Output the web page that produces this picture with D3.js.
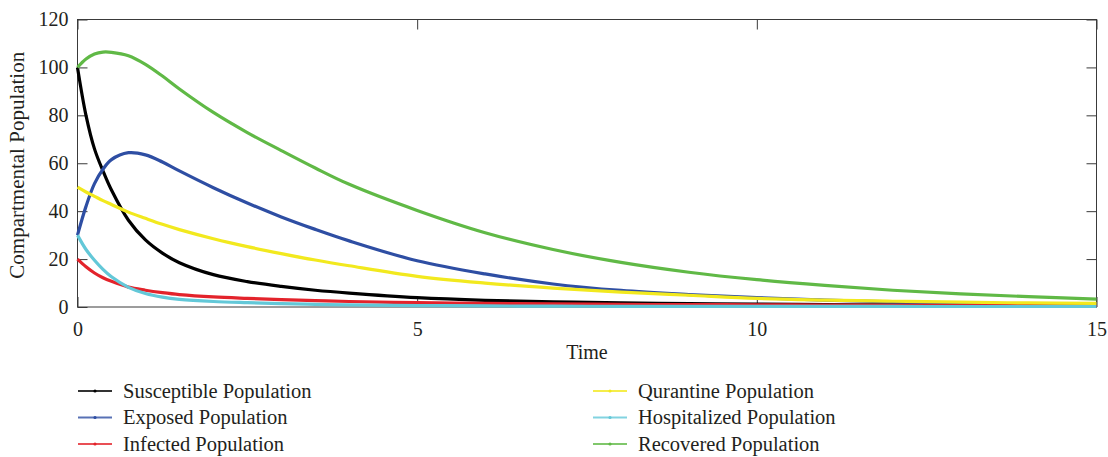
<!DOCTYPE html>
<html>
<head>
<meta charset="utf-8">
<script src="https://cdn.jsdelivr.net/npm/d3@7"></script>
<style>
  body { margin: 0; background: #fff; }
  text { font-family: "Liberation Serif", "Times New Roman", serif; fill: #231f20; }
</style>
</head>
<body>
<div class="svg-container"></div>
<script>
// time grid (days) and compartment values
const time =         [0, 0.125, 0.25, 0.375, 0.5, 0.75, 1, 1.25, 1.5, 2, 2.5, 3, 3.5, 4, 5, 6, 7, 8, 9, 10, 11, 12, 13, 14, 15];
const susceptible =  [100, 80, 66, 56.8, 48.8, 36.2, 28, 22.5, 18.5, 13.5, 10.6, 8.6, 7.0, 5.8, 3.9, 2.8, 2.2, 1.7, 1.4, 1.2, 1.0, 0.9, 0.8, 0.7, 0.6];
const exposed =      [30, 42, 51.5, 57.5, 61.5, 64.4, 63.5, 60.5, 56.8, 49.8, 43.4, 37.6, 32.4, 27.6, 19.3, 13.8, 9.6, 6.9, 5.2, 3.9, 2.9, 2.1, 1.6, 1.2, 0.9];
const infected =     [20, 16.8, 14.2, 12.2, 10.7, 8.3, 7.0, 6.0, 5.2, 4.2, 3.6, 3.1, 2.7, 2.3, 1.8, 1.5, 1.3, 1.1, 1.0, 0.9, 0.8, 0.7, 0.6, 0.55, 0.5];
const quarantine =   [50, 48, 46.2, 44.4, 42.8, 39.6, 37, 34.5, 32.3, 28.5, 25.2, 22.3, 19.6, 17.2, 12.8, 10.0, 7.9, 6.2, 4.9, 3.6, 2.9, 2.4, 2.0, 1.7, 1.5];
const hospitalized = [30, 24, 19.5, 15.7, 12.6, 8.2, 5.6, 4.1, 3.2, 2.3, 1.8, 1.4, 1.1, 0.9, 0.6, 0.45, 0.35, 0.3, 0.27, 0.25, 0.23, 0.22, 0.21, 0.2, 0.2];
const recovered =    [100, 103.5, 105.6, 106.4, 106.3, 104.9, 101.3, 96.4, 91, 81.2, 72.8, 65.3, 58, 51.2, 40.3, 31, 24, 18.6, 14.5, 11.4, 9.0, 7.0, 5.5, 4.3, 3.3];

const seriesNames = ["Susceptible Population", "Exposed Population", "Infected Population",
                     "Qurantine Population", "Hospitalized Population", "Recovered Population"];
const seriesColors = ["#000000", "#2e4ea3", "#e3232b", "#f2e91e", "#63c8d8", "#60b946"];
const seriesValues = [susceptible, exposed, infected, quarantine, hospitalized, recovered];

const xTicks = [0, 5, 10, 15];
const yTicks = [0, 20, 40, 60, 80, 100, 120];

const w = 1108, h = 457;
const padLeft = 77.5, padRight = 1096.5, padTop = 19.5, padBottom = 307;

const svg = d3.select(".svg-container")
              .append("svg")
              .attr("width", w)
              .attr("height", h);

// scales
const xScale = d3.scaleLinear().domain([0, 15]).range([padLeft, padRight]);
const yScale = d3.scaleLinear().domain([0, 120]).range([padBottom, padTop]);

// box with inward ticks on all four sides
svg.append("rect")
   .attr("x", padLeft).attr("y", padTop)
   .attr("width", padRight - padLeft).attr("height", padBottom - padTop)
   .attr("fill", "none").attr("stroke", "#3a3a3a").attr("stroke-width", 1);

const tickLen = 10;
function styleAxis(g) {
  g.select(".domain").remove();
  g.selectAll(".tick line").attr("stroke", "#3a3a3a");
  g.selectAll(".tick text").attr("font-size", "20px").attr("fill", "#231f20")
   .attr("font-family", "Liberation Serif, serif");
}

svg.append("g")
   .attr("transform", "translate(0," + padBottom + ")")
   .call(d3.axisBottom(xScale).tickValues(xTicks).tickSize(-tickLen).tickPadding(15).tickFormat(d3.format("d")))
   .call(styleAxis);

svg.append("g")
   .attr("transform", "translate(0," + padTop + ")")
   .call(d3.axisTop(xScale).tickValues(xTicks).tickSize(-tickLen).tickFormat(""))
   .call(styleAxis);

svg.append("g")
   .attr("transform", "translate(" + padLeft + ",0)")
   .call(d3.axisLeft(yScale).tickValues(yTicks).tickSize(-tickLen).tickPadding(9).tickFormat(d3.format("d")))
   .call(styleAxis);

svg.append("g")
   .attr("transform", "translate(" + padRight + ",0)")
   .call(d3.axisRight(yScale).tickValues(yTicks).tickSize(-tickLen).tickFormat(""))
   .call(styleAxis);

// axis titles
svg.append("text")
   .attr("x", (padLeft + padRight) / 2)
   .attr("y", 359)
   .attr("text-anchor", "middle")
   .attr("font-size", "20px")
   .text("Time");

svg.append("text")
   .attr("transform", "translate(24," + ((padTop + padBottom) / 2 + 2) + ") rotate(-90)")
   .attr("text-anchor", "middle")
   .attr("font-size", "21px")
   .text("Compartmental Population");

// curves
const line = d3.line()
               .x((d, i) => xScale(time[i]))
               .y(d => yScale(d))
               .curve(d3.curveCatmullRom.alpha(0.5));

svg.append("defs").append("clipPath").attr("id", "plot")
   .append("rect").attr("x", padLeft - 2).attr("y", padTop).attr("width", padRight - padLeft + 3).attr("height", padBottom - padTop + 1);

svg.append("g")
   .attr("clip-path", "url(#plot)")
   .selectAll("path")
   .data(seriesValues)
   .enter()
   .append("path")
   .attr("d", line)
   .attr("fill", "none")
   .attr("stroke", (d, i) => seriesColors[i])
   .attr("stroke-width", 3.2);

// legend, two columns of three
const legend = svg.append("g")
   .selectAll("g")
   .data(seriesNames)
   .enter()
   .append("g")
   .attr("transform", (d, i) => "translate(" + (i < 3 ? 78 : 593) + "," + (391 + (i % 3) * 26.5) + ")");

legend.append("line")
   .attr("x1", 0).attr("x2", 34).attr("y1", 0).attr("y2", 0)
   .attr("stroke", (d, i) => seriesColors[i])
   .attr("stroke-opacity", 0.8)
   .attr("stroke-width", 2);

legend.append("circle")
   .attr("cx", 17).attr("cy", 0).attr("r", 1.6)
   .attr("fill", (d, i) => seriesColors[i]);

legend.append("text")
   .attr("x", 45)
   .attr("y", 6.5)
   .attr("font-size", "20.5px")
   .text(d => d);
</script>
</body>
</html>
